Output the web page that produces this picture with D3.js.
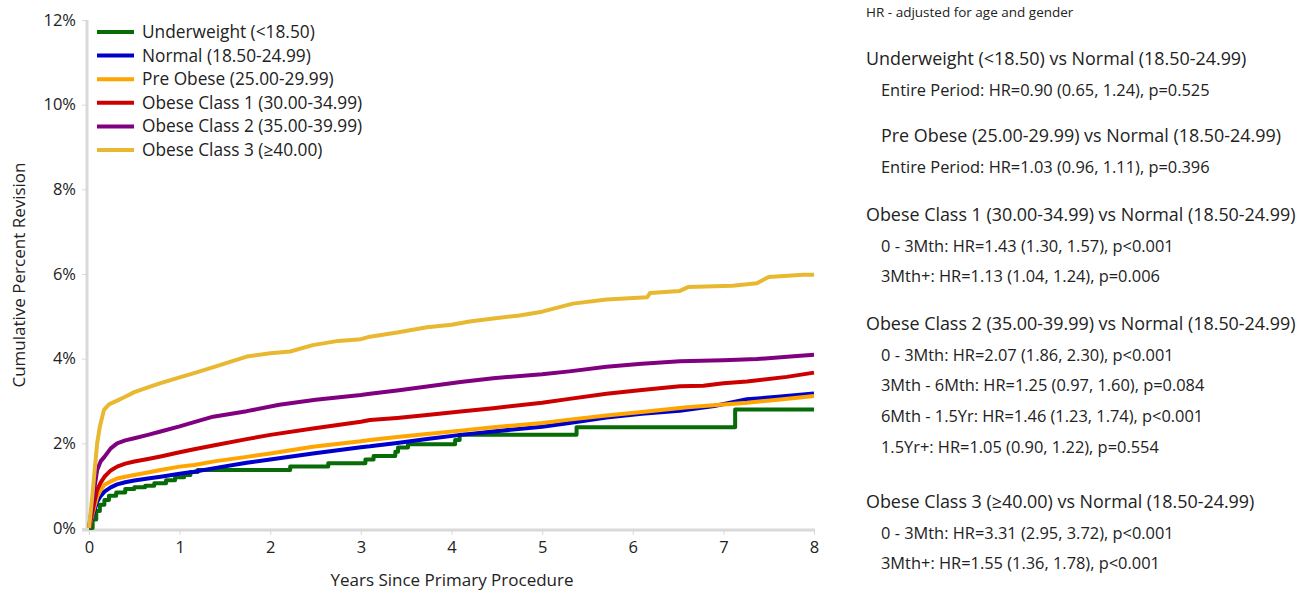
<!DOCTYPE html>
<html><head><meta charset="utf-8">
<script src="https://cdn.jsdelivr.net/npm/d3@7"></script>
<style>
body{margin:0;background:#fff;}
svg{display:block;font-family:"Open Sans","Noto Sans",sans-serif;}
</style></head><body>
<svg id="c" width="1301" height="592"></svg>
<script>
// ---- data ----
const seriesNames = ["Underweight (<18.50)","Normal (18.50-24.99)","Pre Obese (25.00-29.99)","Obese Class 1 (30.00-34.99)","Obese Class 2 (35.00-39.99)","Obese Class 3 (\u226540.00)"];
const seriesColors = ["#076b07","#0000cc","#ffa500","#cc0000","#800080","#e8b830"];
const xTicks = [0,1,2,3,4,5,6,7,8];
const yTicks = [0,2,4,6,8,10,12];

const underweightT = [0,0.04,0.08,0.12,0.17,0.22,0.30,0.40,0.50,0.62,0.72,0.85,0.95,1.05,1.12,1.20,2.22,2.64,3.05,3.14,3.38,3.41,3.52,4.04,4.09,5.38,7.13,8.0];
const underweightV = [0,0.20,0.40,0.55,0.66,0.76,0.84,0.92,0.96,1.00,1.06,1.13,1.20,1.25,1.32,1.37,1.45,1.53,1.62,1.70,1.80,1.90,1.98,2.08,2.20,2.38,2.80,2.80];

const normalT = [0,0.03,0.06,0.09,0.13,0.17,0.24,0.31,0.40,0.50,0.65,0.79,1.0,1.16,1.4,1.74,2.0,2.47,3.0,3.1,3.4,3.73,4.1,4.46,5.0,5.3,5.71,6.1,6.52,6.9,7.26,7.6,8.0];
const normalV = [0,0.20,0.42,0.62,0.76,0.86,0.96,1.03,1.08,1.12,1.17,1.21,1.28,1.33,1.42,1.54,1.62,1.76,1.91,1.93,2.01,2.10,2.20,2.28,2.39,2.48,2.61,2.70,2.77,2.88,3.04,3.10,3.18];

const preObeseT = [0,0.03,0.06,0.09,0.13,0.17,0.24,0.31,0.40,0.50,0.65,0.79,1.0,1.16,1.4,1.74,2.0,2.47,3.0,3.1,3.4,3.73,4.1,4.46,5.0,5.3,5.71,6.1,6.6,7.0,7.26,7.6,8.0];
const preObeseV = [0,0.25,0.50,0.74,0.90,1.02,1.10,1.17,1.21,1.25,1.31,1.37,1.45,1.49,1.58,1.68,1.76,1.92,2.05,2.08,2.15,2.22,2.30,2.38,2.48,2.56,2.66,2.74,2.85,2.92,2.96,3.03,3.12];

const obese1T = [0,0.03,0.06,0.09,0.13,0.17,0.24,0.31,0.40,0.50,0.65,0.79,1.0,1.16,1.4,1.74,2.0,2.47,3.0,3.1,3.4,3.73,4.1,4.46,5.0,5.3,5.71,6.1,6.52,6.78,7.0,7.26,7.7,8.0];
const obese1V = [0,0.30,0.62,0.90,1.08,1.21,1.36,1.45,1.52,1.57,1.63,1.69,1.79,1.86,1.96,2.10,2.20,2.35,2.51,2.55,2.60,2.67,2.75,2.83,2.96,3.05,3.17,3.26,3.35,3.36,3.42,3.46,3.57,3.67];

const obese2T = [0,0.03,0.06,0.09,0.13,0.17,0.24,0.31,0.40,0.50,0.65,0.79,1.0,1.16,1.37,1.74,2.1,2.5,3.0,3.1,3.4,3.73,4.1,4.46,5.0,5.3,5.71,6.1,6.52,7.0,7.37,7.74,8.0];
const obese2V = [0,0.45,0.95,1.37,1.58,1.68,1.88,2.00,2.07,2.12,2.20,2.28,2.40,2.50,2.63,2.76,2.91,3.03,3.14,3.17,3.25,3.34,3.45,3.54,3.63,3.70,3.81,3.88,3.94,3.96,3.99,4.05,4.09];

const obese3T = [0,0.02,0.04,0.06,0.09,0.12,0.165,0.22,0.28,0.40,0.50,0.65,0.79,1.0,1.16,1.4,1.74,2.0,2.22,2.47,2.75,3.0,3.1,3.4,3.73,4.0,4.2,4.46,4.75,5.0,5.34,5.71,6.16,6.19,6.52,6.61,7.1,7.37,7.5,7.88,8.0];
const obese3V = [0,0.40,0.83,1.30,2.00,2.40,2.79,2.92,2.98,3.10,3.21,3.32,3.42,3.56,3.66,3.82,4.05,4.13,4.17,4.32,4.42,4.46,4.52,4.62,4.74,4.80,4.88,4.95,5.02,5.11,5.30,5.40,5.45,5.55,5.60,5.69,5.72,5.78,5.93,5.98,5.98];

const hrTitle = "HR - adjusted for age and gender";
const hrHeads = ["Underweight (<18.50) vs Normal (18.50-24.99)","Pre Obese (25.00-29.99) vs Normal (18.50-24.99)","Obese Class 1 (30.00-34.99) vs Normal (18.50-24.99)","Obese Class 2 (35.00-39.99) vs Normal (18.50-24.99)","Obese Class 3 (\u226540.00) vs Normal (18.50-24.99)"];
const hrLines = [
  ["Entire Period: HR=0.90 (0.65, 1.24), p=0.525"],
  ["Entire Period: HR=1.03 (0.96, 1.11), p=0.396"],
  ["0 - 3Mth: HR=1.43 (1.30, 1.57), p<0.001","3Mth+: HR=1.13 (1.04, 1.24), p=0.006"],
  ["0 - 3Mth: HR=2.07 (1.86, 2.30), p<0.001","3Mth - 6Mth: HR=1.25 (0.97, 1.60), p=0.084","6Mth - 1.5Yr: HR=1.46 (1.23, 1.74), p<0.001","1.5Yr+: HR=1.05 (0.90, 1.22), p=0.554"],
  ["0 - 3Mth: HR=3.31 (2.95, 3.72), p<0.001","3Mth+: HR=1.55 (1.36, 1.78), p<0.001"]
];

// ---- layout ----
const svg = d3.select("#c");
const x = d3.scaleLinear().domain([0,8]).range([89,814]);
const y = d3.scaleLinear().domain([0,12]).range([528,20]);
const textCol = "#222";

const allT = [underweightT,normalT,preObeseT,obese1T,obese2T,obese3T];
const allV = [underweightV,normalV,preObeseV,obese1V,obese2V,obese3V];
const series = seriesNames.map((n,i)=>({name:n,color:seriesColors[i],pts:allT[i].map((t,j)=>[t,allV[i][j]])}));

// axes
const gy = svg.append("g").attr("transform","translate(87,0)")
  .call(d3.axisLeft(y).tickValues(yTicks).tickFormat(d=>d+"%").tickSize(5).tickPadding(6));
gy.select(".domain").attr("stroke","#d9d9d9").attr("stroke-width",3).attr("d","M0,20V530");
gy.selectAll(".tick line").attr("stroke","#d9d9d9").attr("stroke-width",1);
gy.selectAll("text").attr("font-size",16.5).attr("fill",textCol).attr("font-family","Open Sans");

const gx = svg.append("g").attr("transform","translate(0,530)")
  .call(d3.axisBottom(x).tickValues(xTicks).tickSize(5).tickPadding(6));
gx.select(".domain").attr("stroke","#d9d9d9").attr("stroke-width",3).attr("d","M82,0H815");
gx.selectAll(".tick line").attr("stroke","#d9d9d9").attr("stroke-width",1);
gx.selectAll("text").attr("font-size",16.5).attr("fill",textCol).attr("font-family","Open Sans");

svg.append("text").attr("transform","translate(25,275) rotate(-90)").attr("text-anchor","middle")
  .attr("font-size",17).attr("fill",textCol).text("Cumulative Percent Revision");
svg.append("text").attr("x",452).attr("y",586).attr("text-anchor","middle")
  .attr("font-size",17).attr("fill",textCol).text("Years Since Primary Procedure");

// lines
series.forEach((s,i)=>{
  const line = d3.line().x(d=>x(d[0])).y(d=>y(d[1])).curve(i===0?d3.curveStepAfter:d3.curveLinear);
  svg.append("path").datum(s.pts).attr("fill","none").attr("stroke",s.color)
    .attr("stroke-width",4).attr("stroke-linejoin","round").attr("d",line);
});

// legend
const lg = svg.append("g");
series.forEach((s,i)=>{
  const yy = 32 + i*23.6;
  lg.append("line").attr("x1",97).attr("x2",134).attr("y1",yy).attr("y2",yy).attr("stroke",s.color).attr("stroke-width",4);
  lg.append("text").attr("x",142).attr("y",yy).attr("dy","0.35em").attr("font-size",17.3).attr("fill",textCol).text(s.name);
});

// HR panel
const rp = svg.append("g");
rp.append("text").attr("x",866).attr("y",12).attr("dy","0.35em").attr("font-size",13.5).attr("fill",textCol).text(hrTitle);
const headY = [59,136,215,324,502];
const headX = [866,881,866,866,866];
const lineGap = 30.6;
hrHeads.forEach((h,i)=>{
  rp.append("text").attr("x",headX[i]).attr("y",headY[i]).attr("dy","0.35em").attr("font-size",17.9).attr("fill",textCol).text(h);
  hrLines[i].forEach((l,j)=>{
    rp.append("text").attr("x",881).attr("y",headY[i]+31+j*lineGap).attr("dy","0.35em").attr("font-size",16.4).attr("fill",textCol).text(l);
  });
});
</script>
</body></html>
